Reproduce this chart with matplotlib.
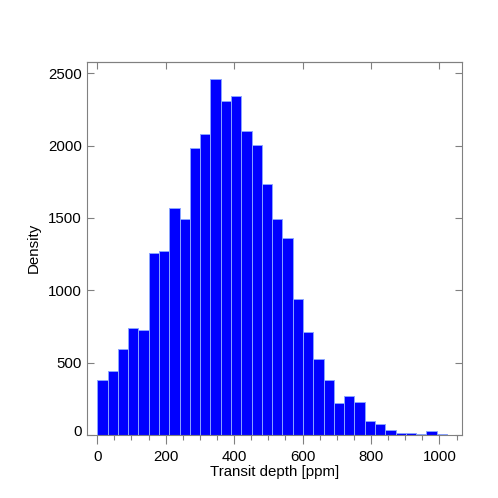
import numpy as np
import matplotlib
matplotlib.use("Agg")
import matplotlib.pyplot as plt
import matplotlib.transforms as mtransforms

plt.rcParams['font.family'] = ['Liberation Sans', 'DejaVu Sans']

# histogram counts, 34 bins of ~30 ppm starting at 0
counts = [380, 442, 596, 737, 728, 1260, 1274, 1567, 1493, 1986,
          2080, 2458, 2306, 2345, 2103, 2002, 1738, 1493, 1360, 942,
          714, 523, 378, 219, 267, 226, 99, 74, 35, 14,
          16, 5, 26, 9]
bin_lo = 0.0
bin_hi = 1022.0
xticks = [0, 200, 400, 600, 800, 1000]
yticks = [0, 500, 1000, 1500, 2000, 2500]

edges = np.linspace(bin_lo, bin_hi, len(counts) + 1)

fig = plt.figure(figsize=(4.98, 4.98), dpi=100)
ax = fig.add_axes([87.3 / 498, 63 / 498, 374.4 / 498, 373.3 / 498])

ax.bar(edges[:-1], counts, width=np.diff(edges), align='edge',
       color='#0000ff', edgecolor='#8aa4ff', linewidth=0.7)

ax.set_xlim(-29, 1065)
ax.set_ylim(0, 2580)

gray = '#808080'
fs = 10.8
for s in ax.spines.values():
    s.set_color(gray)
    s.set_linewidth(0.8)

ax.set_xticks(xticks)
ax.set_xticks(np.arange(50, 1100, 50), minor=True)
ax.set_yticks(yticks)
ax.tick_params(axis='x', which='major', direction='out', length=6.7, width=0.8,
               color=gray, pad=4, labelsize=fs, top=False)
ax.tick_params(axis='x', which='minor', direction='out', length=3.6, width=0.8,
               color=gray, top=False)
ax.tick_params(axis='y', which='major', direction='in', length=5.2, width=0.8,
               color=gray, pad=4, labelsize=fs, right=True)

top = ax.secondary_xaxis('top')
top.set_xticks(xticks)
top.tick_params(direction='in', length=5, width=0.8, color=gray, labeltop=False)
top.spines['top'].set_color(gray)
top.spines['top'].set_linewidth(0.8)

ax.set_xlabel('Transit depth [ppm]', fontsize=fs, labelpad=1)
ax.set_ylabel('Density', fontsize=fs, labelpad=5)

# the zero label sits a little above its tick in the original
zero = ax.yaxis.get_major_ticks()[0].label1
zero.set_transform(zero.get_transform() +
                   mtransforms.ScaledTranslation(0, 3 / 72, fig.dpi_scale_trans))

fig.savefig('out.png', dpi=100)
